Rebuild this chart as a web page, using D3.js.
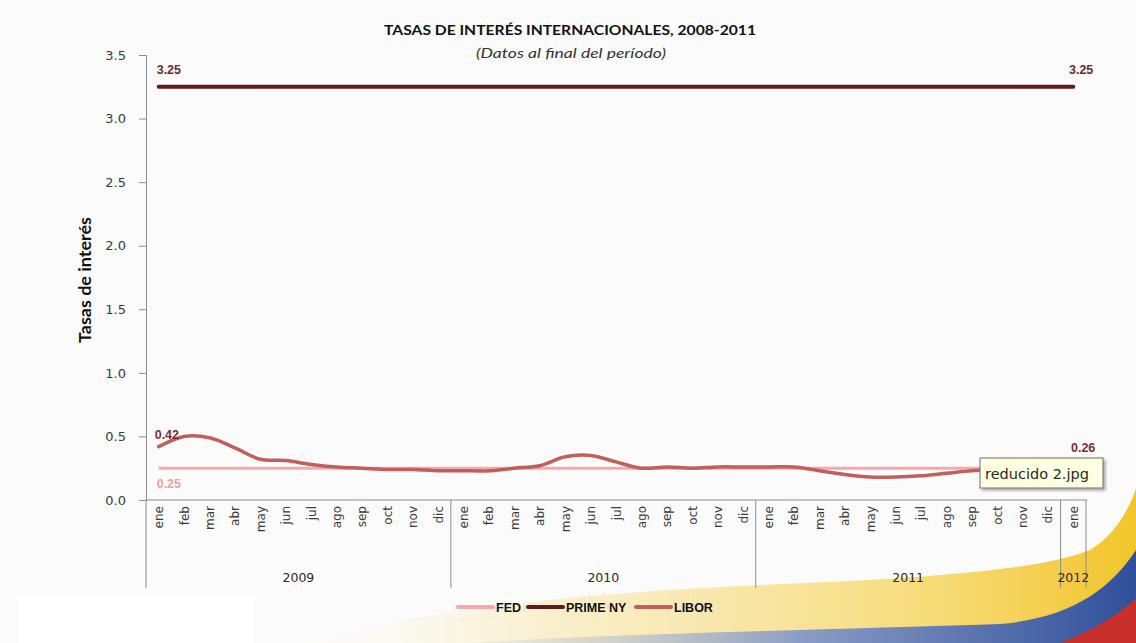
<!DOCTYPE html>
<html>
<head>
<meta charset="utf-8">
<script src="https://cdn.jsdelivr.net/npm/d3@7"></script>
<style>
  html, body { margin: 0; padding: 0; background: #fbfbfb; }
  svg { display: block; }
</style>
</head>
<body>
<svg id="chart" width="1136" height="643"></svg>
<script>
// Month categories (end of period), Jan 2009 – Jan 2012
const months = [
  "ene","feb","mar","abr","may","jun","jul","ago","sep","oct","nov","dic",
  "ene","feb","mar","abr","may","jun","jul","ago","sep","oct","nov","dic",
  "ene","feb","mar","abr","may","jun","jul","ago","sep","oct","nov","dic",
  "ene"
];
const yearLabels = ["2009", "2010", "2011", "2012"];
const yearCounts = [12, 12, 12, 1];

const fed = [
  0.25,0.25,0.25,0.25,0.25,0.25,0.25,0.25,0.25,0.25,0.25,0.25,
  0.25,0.25,0.25,0.25,0.25,0.25,0.25,0.25,0.25,0.25,0.25,0.25,
  0.25,0.25,0.25,0.25,0.25,0.25,0.25,0.25,0.25,0.25,0.25,0.25,
  0.25
];
const primeNY = [
  3.25,3.25,3.25,3.25,3.25,3.25,3.25,3.25,3.25,3.25,3.25,3.25,
  3.25,3.25,3.25,3.25,3.25,3.25,3.25,3.25,3.25,3.25,3.25,3.25,
  3.25,3.25,3.25,3.25,3.25,3.25,3.25,3.25,3.25,3.25,3.25,3.25,
  3.25
];
const libor = [
  0.42,0.50,0.49,0.41,0.32,0.31,0.28,0.26,0.25,0.24,0.24,0.23,
  0.23,0.23,0.25,0.27,0.34,0.35,0.30,0.25,0.26,0.25,0.26,0.26,
  0.26,0.26,0.23,0.20,0.18,0.18,0.19,0.21,0.23,0.24,0.26,0.29,
  0.26
];
const yTicks = [0, 0.5, 1.0, 1.5, 2.0, 2.5, 3.0, 3.5];

const seriesNames = ["FED", "PRIME NY", "LIBOR"];
const seriesColors = ["#f4aaaa", "#5f1b20", "#c0605c"];

const svg = d3.select("#chart");

// ---- background decoration (flag swoosh at the bottom) ----
const defs = svg.append("defs");
const yg = defs.append("linearGradient").attr("id", "yellowGrad")
  .attr("x1", "0%").attr("x2", "100%").attr("y1", "0%").attr("y2", "0%");
yg.append("stop").attr("offset", "0%").attr("stop-color", "#fbf7e8").attr("stop-opacity", 0.0);
yg.append("stop").attr("offset", "30%").attr("stop-color", "#f9ecc0").attr("stop-opacity", 0.8);
yg.append("stop").attr("offset", "75%").attr("stop-color", "#f7dc7a");
yg.append("stop").attr("offset", "100%").attr("stop-color", "#f2c52c");
const bg = defs.append("linearGradient").attr("id", "blueGrad")
  .attr("x1", "0%").attr("x2", "100%").attr("y1", "0%").attr("y2", "0%");
bg.append("stop").attr("offset", "0%").attr("stop-color", "#c8cfe0").attr("stop-opacity", 0.2);
bg.append("stop").attr("offset", "50%").attr("stop-color", "#8a9cc6");
bg.append("stop").attr("offset", "100%").attr("stop-color", "#2f4f9a");
const shadow = defs.append("filter").attr("id", "tipShadow")
  .attr("x", "-10%").attr("y", "-10%").attr("width", "130%").attr("height", "150%");
shadow.append("feDropShadow").attr("dx", 2).attr("dy", 2).attr("stdDeviation", 1.5)
  .attr("flood-color", "#000").attr("flood-opacity", 0.35);

const deco = svg.append("g");
deco.append("path")
  .attr("d", "M 300 643 C 420 612, 560 594, 760 585 C 930 578, 1040 570, 1090 550 C 1115 535, 1130 508, 1136 488 L 1136 643 Z")
  .attr("fill", "url(#yellowGrad)");
deco.append("path")
  .attr("d", "M 470 643 C 600 634, 820 630, 1000 624 C 1070 618, 1110 590, 1136 550 L 1136 643 Z")
  .attr("fill", "url(#blueGrad)");
deco.append("path")
  .attr("d", "M 1060 643 C 1095 630, 1122 612, 1136 598 L 1136 643 Z")
  .attr("fill", "#c9302c");
deco.append("rect").attr("x", 18).attr("y", 596).attr("width", 236).attr("height", 47).attr("fill", "#ffffff");

// ---- scales ----
const x = d3.scaleBand().domain(d3.range(months.length)).range([146, 1086]).padding(0);
const y = d3.scaleLinear().domain([0, 3.5]).range([500, 55]);
const cx = i => x(i) + x.bandwidth() / 2;

// ---- titles ----
svg.append("text").attr("x", 570).attr("y", 35).attr("text-anchor", "middle")
  .attr("font-family", "Lato, 'Liberation Sans', sans-serif").attr("font-weight", "bold")
  .attr("font-size", 13).attr("fill", "#111")
  .attr("textLength", 372).attr("lengthAdjust", "spacingAndGlyphs")
  .text("TASAS DE INTERÉS INTERNACIONALES, 2008-2011");
svg.append("text").attr("x", 571).attr("y", 58).attr("text-anchor", "middle")
  .attr("font-family", "Lato, 'Open Sans', sans-serif").attr("font-style", "italic")
  .attr("font-size", 14).attr("fill", "#333")
  .attr("textLength", 190).attr("lengthAdjust", "spacingAndGlyphs")
  .text("(Datos al final del período)");

svg.append("text")
  .attr("transform", "translate(91,280) rotate(-90)")
  .attr("text-anchor", "middle")
  .attr("font-family", "Lato, 'Liberation Sans', sans-serif").attr("font-weight", "bold")
  .attr("font-size", 17).attr("fill", "#111")
  .attr("textLength", 126).attr("lengthAdjust", "spacingAndGlyphs")
  .text("Tasas de interés");

// ---- y axis ----
const yAxis = d3.axisLeft(y).tickValues(yTicks).tickFormat(d3.format(".1f"))
  .tickSize(7).tickPadding(13);
const yg2 = svg.append("g").attr("transform", "translate(146,0)").call(yAxis);
yg2.select(".domain").attr("stroke", "#8c8c8c");
yg2.selectAll(".tick line").attr("stroke", "#8c8c8c");
yg2.selectAll(".tick text").attr("font-family", "'DejaVu Sans', sans-serif")
  .attr("font-size", 13).attr("fill", "#3a3a3a");

// ---- x axis: months ----
const xg = svg.append("g").attr("transform", "translate(0,500)");
xg.append("line").attr("x1", 146).attr("x2", 1087).attr("y1", 0).attr("y2", 0)
  .attr("stroke", "#8c8c8c");
xg.selectAll("text.month").data(months).join("text")
  .attr("class", "month")
  .attr("transform", (d, i) => `translate(${cx(i) + 4.5},6) rotate(-90)`)
  .attr("text-anchor", "end")
  .attr("font-family", "'DejaVu Sans', sans-serif")
  .attr("font-size", 12).attr("fill", "#3a3a3a")
  .text(d => d);

// year groups
const starts = yearCounts.map((c, k) => d3.sum(yearCounts.slice(0, k)));
const boundaries = starts.concat([months.length]);
const edge = i => i < months.length ? x(i) : x.range()[1];
xg.selectAll("line.sep").data(boundaries).join("line")
  .attr("class", "sep")
  .attr("x1", d => edge(d)).attr("x2", d => edge(d))
  .attr("y1", 0).attr("y2", 88)
  .attr("stroke", "#8c8c8c");
xg.selectAll("text.year").data(yearLabels).join("text")
  .attr("class", "year")
  .attr("x", (d, k) => (edge(starts[k]) + edge(starts[k] + yearCounts[k])) / 2)
  .attr("y", 82)
  .attr("text-anchor", "middle")
  .attr("font-family", "'DejaVu Sans', sans-serif")
  .attr("font-size", 12.5).attr("fill", "#2a2a2a")
  .text(d => d);

// ---- lines ----
const line = d3.line().x((d, i) => cx(i)).y(d => y(d)).curve(d3.curveCatmullRom.alpha(0.5));
const plot = svg.append("g");
plot.append("path").datum(fed).attr("d", line).attr("fill", "none")
  .attr("stroke", seriesColors[0]).attr("stroke-width", 3);
plot.append("path").datum(primeNY).attr("d", line).attr("fill", "none")
  .attr("stroke", seriesColors[1]).attr("stroke-width", 4).attr("stroke-linecap", "round");
plot.append("path").datum(libor).attr("d", line).attr("fill", "none")
  .attr("stroke", seriesColors[2]).attr("stroke-width", 3.5).attr("stroke-linecap", "round");

// ---- data labels ----
const fmt = d3.format(".2f");
const lbl = (xx, yy, v, color, anchor) => svg.append("text")
  .attr("x", xx).attr("y", yy).attr("text-anchor", anchor || "start")
  .attr("font-family", "'Liberation Sans', sans-serif").attr("font-weight", "bold")
  .attr("font-size", 12.5).attr("fill", color).text(fmt(v));
const last = months.length - 1;
lbl(cx(0) - 2, y(primeNY[0]) - 13, primeNY[0], "#6a2a2f");
lbl(cx(last) + 20, y(primeNY[last]) - 13, primeNY[last], "#6a2a2f", "end");
lbl(cx(0) - 4, y(libor[0]) - 8, libor[0], "#7a2e33");
lbl(cx(0) - 2, y(fed[0]) + 20, fed[0], "#e5a6a2");
lbl(cx(last) + 22, y(libor[last]) - 15, libor[last], "#7a2e33", "end");

// ---- legend ----
const legend = svg.append("g").attr("transform", "translate(0,607)");
const legX = [458, 528, 636];
seriesNames.forEach((name, k) => {
  legend.append("line").attr("x1", legX[k]).attr("x2", legX[k] + 35).attr("y1", 0).attr("y2", 0)
    .attr("stroke", seriesColors[k]).attr("stroke-width", 4).attr("stroke-linecap", "round");
  legend.append("text").attr("x", legX[k] + 38).attr("y", 5)
    .attr("font-family", "'Liberation Sans', sans-serif").attr("font-weight", "bold")
    .attr("font-size", 12.5).attr("fill", "#111").text(name);
});

// ---- tooltip box ----
const tip = svg.append("g").attr("transform", "translate(980,458)");
tip.append("rect").attr("width", 123).attr("height", 30)
  .attr("fill", "#ffffe1").attr("stroke", "#6e6e6e").attr("filter", "url(#tipShadow)");
tip.append("text").attr("x", 5).attr("y", 21)
  .attr("font-family", "'DejaVu Sans', sans-serif").attr("font-size", 14.5)
  .attr("fill", "#2a2a2a").text("reducido 2.jpg");
</script>
</body>
</html>
